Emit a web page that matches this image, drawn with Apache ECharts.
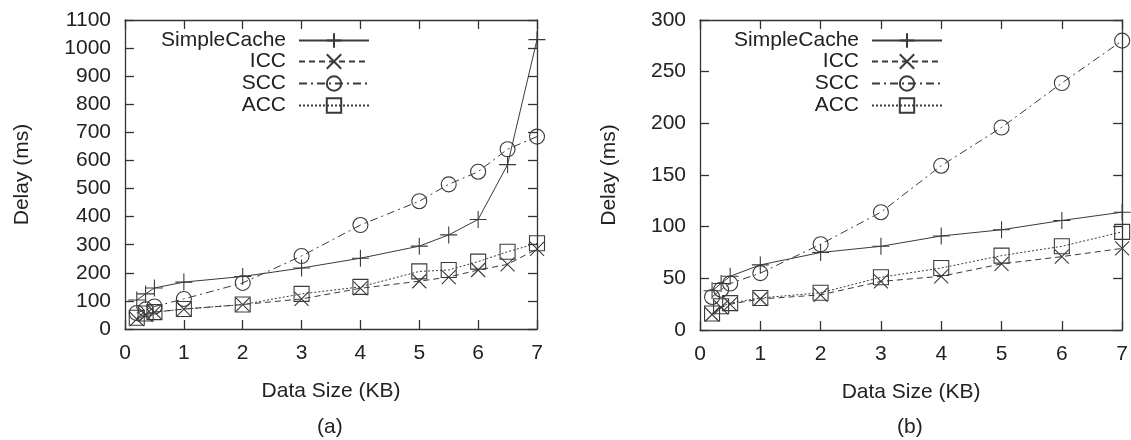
<!DOCTYPE html>
<html>
<head>
<meta charset="utf-8">
<script src="https://cdn.jsdelivr.net/npm/echarts@6/dist/echarts.min.js"></script>
<style>html,body{margin:0;padding:0;background:#fff;}#c{width:1131px;height:440px;}</style>
</head>
<body>
<div id="c"></div>
<script>
// ---- data ----
const seriesNames = ['SimpleCache', 'ICC', 'SCC', 'ACC'];
const xTicks = ['0','1','2','3','4','5','6','7'];
const xA = [0.2, 0.35, 0.5, 1, 2, 3, 4, 5, 5.5, 6, 6.5, 7];
const simpleA = [103, 125, 146, 167, 187, 217, 252, 295, 335, 390, 585, 1030];
const iccA    = [35, 50, 60, 71, 87, 107, 145, 170, 185, 210, 230, 285];
const sccA    = [57, 70, 80, 107, 164, 260, 370, 455, 515, 560, 640, 685];
const accA    = [40, 55, 60, 71, 87, 125, 150, 205, 210, 240, 275, 305];
const xB = [0.2, 0.35, 0.5, 1, 2, 3, 4, 5, 6, 7];
const simpleB = [38, 45, 52, 63, 75, 81, 91, 97, 106, 114];
const iccB    = [15, 22, 25, 30, 34, 47, 52, 64, 71, 79];
const sccB    = [32, 39, 45, 55, 83, 114, 159, 196, 239, 280];
const accB    = [16, 23, 26, 31, 36, 51, 60, 72, 81, 95];

const FONT = '"Liberation Sans", Arial, Helvetica, sans-serif';
const INK = '#222';
const LINE = '#3a3a3a';
const FS = 21;

const sym = {
  SimpleCache: 'path://M5,0L5,10M0,5L10,5',
  ICC: 'path://M0,0L10,10M0,10L10,0',
  SCC: 'circle',
  ACC: 'rect'
};
const symSize = { SimpleCache: 17, ICC: 14, SCC: 15, ACC: 15 };
const dash = { SimpleCache: 'solid', ICC: [6, 4], SCC: [8, 4, 2, 4], ACC: [2, 2] };

function pairs(xs, ys) { return xs.map((x, i) => [x, ys[i]]); }

function mkSeries(name, xs, ys, idx) {
  return {
    name: name, type: 'line', xAxisIndex: idx * 2, yAxisIndex: idx * 2,
    data: pairs(xs, ys),
    symbol: sym[name], symbolSize: symSize[name], showAllSymbol: true,
    lineStyle: { color: LINE, width: 1, type: dash[name] },
    itemStyle: { color: 'transparent', borderColor: LINE, borderWidth: 1.1 },
    emphasis: { disabled: true }, clip: false, animation: false
  };
}

const grids = [
  { left: 125, top: 20, width: 412, height: 309 },
  { left: 700, top: 20, width: 423, height: 310 }
];
const yMax = [1100, 300], yInt = [100, 50];
const centers = [331, 911];

const axisLineStyle = { color: '#333', width: 1.3 };
const tickStyle = { show: true, inside: true, length: 9, lineStyle: { color: '#333', width: 1.3 } };

const xAxes = [], yAxes = [];
grids.forEach((g, i) => {
  xAxes.push({
    gridIndex: i, type: 'value', min: 0, max: 7, interval: 1, position: 'bottom',
    name: 'Data Size (KB)', nameLocation: 'middle', nameGap: 52,
    nameTextStyle: { fontFamily: FONT, fontSize: FS, color: INK },
    axisLine: { show: true, onZero: false, lineStyle: axisLineStyle },
    axisTick: tickStyle,
    axisLabel: { fontFamily: FONT, fontSize: FS, color: INK, margin: 14, formatter: v => xTicks[v] },
    splitLine: { show: false }
  });
  xAxes.push({
    gridIndex: i, type: 'value', min: 0, max: 7, interval: 1, position: 'top',
    axisLine: { show: true, onZero: false, lineStyle: axisLineStyle },
    axisTick: tickStyle,
    axisLabel: { show: false }, splitLine: { show: false }
  });
  yAxes.push({
    gridIndex: i, type: 'value', min: 0, max: yMax[i], interval: yInt[i], position: 'left',
    name: 'Delay (ms)', nameLocation: 'middle', nameGap: i === 0 ? 92 : 80,
    nameTextStyle: { fontFamily: FONT, fontSize: FS, color: INK },
    axisLine: { show: true, onZero: false, lineStyle: axisLineStyle },
    axisTick: tickStyle,
    axisLabel: { fontFamily: FONT, fontSize: FS, color: INK, margin: 14, formatter: v => String(v) },
    splitLine: { show: false }
  });
  yAxes.push({
    gridIndex: i, type: 'value', min: 0, max: yMax[i], interval: yInt[i], position: 'right',
    axisLine: { show: true, onZero: false, lineStyle: axisLineStyle },
    axisTick: tickStyle,
    axisLabel: { show: false }, splitLine: { show: false }
  });
});

const series = [
  mkSeries('SimpleCache', xA, simpleA, 0),
  mkSeries('ICC', xA, iccA, 0),
  mkSeries('SCC', xA, sccA, 0),
  mkSeries('ACC', xA, accA, 0),
  mkSeries('SimpleCache', xB, simpleB, 1),
  mkSeries('ICC', xB, iccB, 1),
  mkSeries('SCC', xB, sccB, 1),
  mkSeries('ACC', xB, accB, 1)
];

const legendRight = [1131 - 370, 1131 - 943];
const legendTops = [30, 51, 73, 95];
const legends = [];
[0, 1].forEach(ci => {
  seriesNames.forEach((n, k) => {
    legends.push({
      data: [n], right: legendRight[ci], top: legendTops[k], align: 'right',
      itemWidth: 70, itemHeight: 18, selectedMode: false, padding: 0,
      textStyle: { fontFamily: FONT, fontSize: FS, color: INK, padding: [0, 8, 0, 0] }
    });
  });
});

const chart = echarts.init(document.getElementById('c'), null, { renderer: 'canvas' });
chart.setOption({
  animation: false,
  backgroundColor: '#fff',
  title: [
    { text: '(a)', left: centers[0] - 14, top: 417, padding: 0, textStyle: { fontFamily: FONT, fontSize: FS, fontWeight: 'normal', color: INK } },
    { text: '(b)', left: centers[1] - 14, top: 417, padding: 0, textStyle: { fontFamily: FONT, fontSize: FS, fontWeight: 'normal', color: INK } }
  ],
  grid: grids,
  xAxis: xAxes,
  yAxis: yAxes,
  legend: legends,
  series: series
});
</script>
</body>
</html>
